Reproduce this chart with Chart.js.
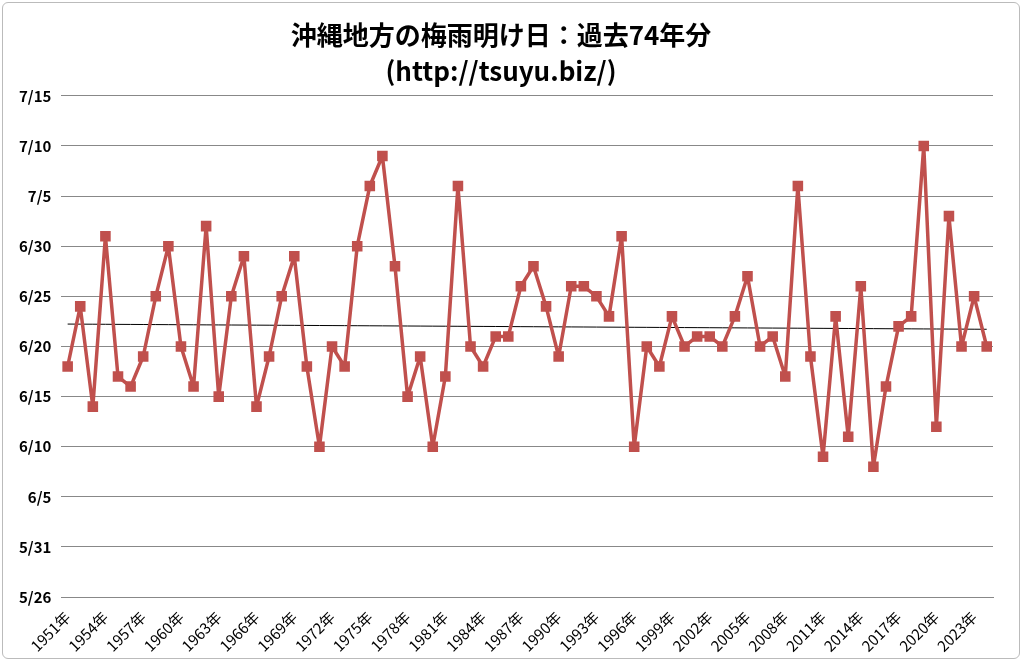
<!DOCTYPE html>
<html><head><meta charset="utf-8">
<script src="https://cdn.jsdelivr.net/npm/chart.js@4"></script>
<style>
html,body{margin:0;padding:0;background:#fff;}
#wrap{position:absolute;left:2px;top:2px;width:1018px;height:657px;border:1px solid #bbb;border-radius:6px;box-sizing:border-box;}
</style></head>
<body>
<div id="wrap"><canvas id="c"></canvas></div>
<script>
const years = [];
for(let y=1951;y<=2024;y++) years.push(y+'年');

// 梅雨明け日 (月/日)
const endDates = [
 '6/18','6/24','6/14','7/1','6/17','6/16','6/19','6/25','6/30','6/20',
 '6/16','7/2','6/15','6/25','6/29','6/14','6/19','6/25','6/29','6/18',
 '6/10','6/20','6/18','6/30','7/6','7/9','6/28','6/15','6/19','6/10',
 '6/17','7/6','6/20','6/18','6/21','6/21','6/26','6/28','6/24','6/19',
 '6/26','6/26','6/25','6/23','7/1','6/10','6/20','6/18','6/23','6/20',
 '6/21','6/21','6/20','6/23','6/27','6/20','6/21','6/17','7/6','6/19',
 '6/9','6/23','6/11','6/26','6/8','6/16','6/22','6/23','7/10','6/12',
 '7/3','6/20','6/25','6/20'
];
const yTickLabels = ['5/26','5/31','6/5','6/10','6/15','6/20','6/25','6/30','7/5','7/10','7/15'];

// day number counted from 5/26 = 0
function dayNum(s){
  const [m,d] = s.split('/').map(Number);
  if(m===5) return d-26;
  if(m===6) return d+5;
  return d+35;
}
const values = endDates.map(dayNum);

// linear trend line (least squares)
const n = values.length;
const mx = (n-1)/2, my = values.reduce((a,b)=>a+b,0)/n;
let sxy=0, sxx=0;
values.forEach((v,i)=>{ sxy+=(i-mx)*(v-my); sxx+=(i-mx)*(i-mx); });
const slope = sxy/sxx;
const trend = values.map((v,i)=>my+slope*(i-mx));

const font = "'Noto Sans CJK JP','Liberation Sans',sans-serif";
const c = document.getElementById('c');
c.width = 1016; c.height = 655;

new Chart(c, {
  type:'line',
  data:{
    labels:years,
    datasets:[
      {
        data:values,
        borderColor:'#c0504d',
        backgroundColor:'#c0504d',
        borderWidth:3.5,
        borderJoinStyle:'round',
        pointStyle:'rect',
        radius:5,
        tension:0
      },
      {
        data:trend,
        borderColor:'#000',
        borderWidth:1,
        pointRadius:0,
        tension:0
      }
    ]
  },
  options:{
    responsive:false,
    animation:false,
    layout:{padding:{top:10,right:26,bottom:0,left:6}},
    plugins:{
      legend:{display:false},
      tooltip:{enabled:false},
      title:{
        display:true,
        text:['沖縄地方の梅雨明け日：過去74年分','(http://tsuyu.biz/)'],
        color:'#000',
        font:{family:font,size:26,weight:'bold',lineHeight:1.4},
        padding:{top:4,bottom:6}
      }
    },
    scales:{
      x:{
        offset:true,
        grid:{display:false, drawTicks:true},
        border:{color:'#888'},
        ticks:{
          autoSkip:false,
          maxRotation:45,minRotation:45,
          color:'#000',
          font:{family:font,size:15},
          callback:function(v,i){ return i%3===0 ? years[i] : ''; }
        }
      },
      y:{
        min:0,max:50,
        grid:{color:'#888',drawTicks:false},
        border:{display:false},
        ticks:{
          stepSize:5,
          padding:10,
          color:'#000',
          font:{family:font,size:15,weight:'bold'},
          callback:function(v){ return yTickLabels[v/5]; }
        }
      }
    }
  }
});
</script>
</body></html>
